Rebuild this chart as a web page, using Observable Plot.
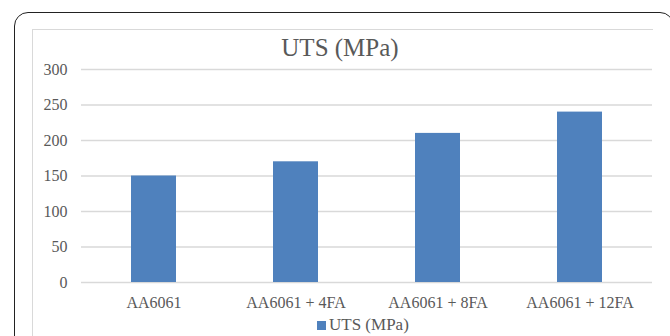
<!DOCTYPE html>
<html>
<head>
<meta charset="utf-8">
<script src="https://cdn.jsdelivr.net/npm/d3@7"></script>
<script src="https://cdn.jsdelivr.net/npm/@observablehq/plot@0.6"></script>
<style>
  html, body { margin: 0; padding: 0; background: #fff; }
  #wrap { position: relative; width: 670px; height: 336px; overflow: hidden; font-family: "Liberation Serif", serif; color: #595959; }
  #wrap * { font-family: "Liberation Serif", serif !important; }
  #frame { position: absolute; left: 14px; top: 12px; width: 660px; height: 340px; border: 1.5px solid #222; border-radius: 14px; box-sizing: border-box; }
  #inner { position: absolute; left: 32px; top: 29px; width: 621px; height: 320px; border-left: 1px solid #d9d9d9; border-top: 1px solid #d9d9d9; box-sizing: border-box; }
  #title { position: absolute; left: 0; width: 680px; top: 33px; text-align: center; font-size: 25px; line-height: 30px; }
  #chart { position: absolute; left: 0; top: 55px; }
  #legend { position: absolute; left: 317px; top: 316px; font-size: 17px; line-height: 18px; white-space: nowrap; }
  #legend span.sw { display: inline-block; width: 9px; height: 9px; background: #4f81bd; margin-right: 3px; vertical-align: 0px; }
</style>
</head>
<body>
<div id="wrap">
  <div id="frame"></div>
  <div id="inner"></div>
  <div id="title"></div>
  <div id="chart"></div>
  <div id="legend"></div>
</div>
<script>
const title = "UTS (MPa)";
const categories = ["AA6061", "AA6061 + 4FA", "AA6061 + 8FA", "AA6061 + 12FA"];
const values = [150, 170, 210, 240];
const yTicks = [0, 50, 100, 150, 200, 250, 300];
const seriesName = "UTS (MPa)";
const barColor = "#4f81bd";

const data = categories.map((c, i) => ({category: c, value: values[i]}));

document.getElementById("title").textContent = title;
document.getElementById("legend").innerHTML = '<span class="sw"></span>' + seriesName;

const chart = Plot.plot({
  width: 670,
  height: 260,
  marginTop: 14,
  marginBottom: 33,
  marginLeft: 81,
  marginRight: 18,
  style: {fontFamily: "Liberation Serif, serif", fontSize: "16px", color: "#595959", background: "transparent", overflow: "visible"},
  x: {domain: categories, paddingInner: 0.684, paddingOuter: 0.342, label: null},
  y: {domain: [0, 300], ticks: yTicks, label: null},
  marks: [
    Plot.gridY(yTicks, {stroke: "#d9d9d9", strokeOpacity: 1, strokeWidth: 1.3}),
    Plot.barY(data, {x: "category", y: "value", fill: barColor}),
    Plot.axisY(yTicks, {tickSize: 0, tickPadding: 14, fontSize: 16, fill: "#595959"}),
    Plot.axisX({tickSize: 0, tickPadding: 14, fontSize: 16, fill: "#595959"})
  ]
});
document.getElementById("chart").appendChild(chart);
</script>
</body>
</html>
